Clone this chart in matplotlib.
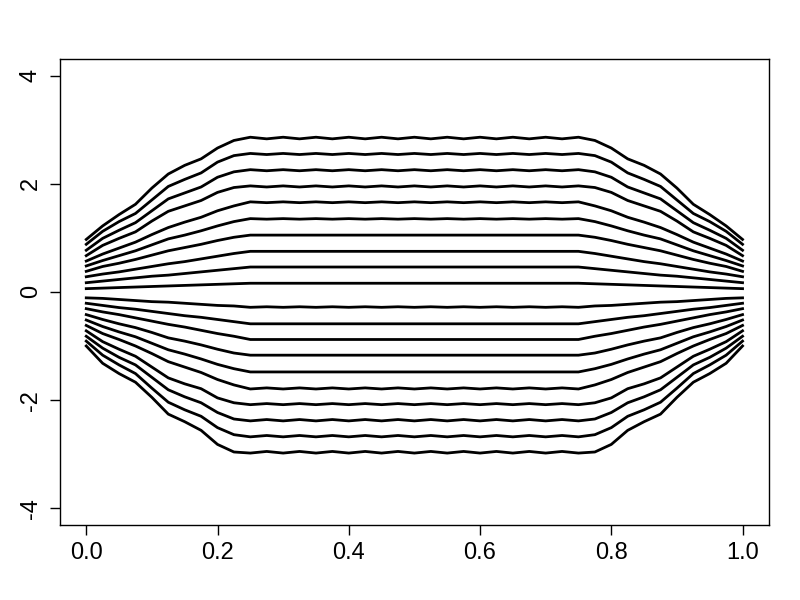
import matplotlib
matplotlib.use("Agg")
import matplotlib.pyplot as plt

plt.rcParams['font.family'] = ['Liberation Sans', 'DejaVu Sans']

# shared x positions of every curve
x_grid = [0.000, 0.025, 0.050, 0.075, 0.100, 0.125, 0.150, 0.175, 0.200, 0.225,
          0.250, 0.275, 0.300, 0.325, 0.350, 0.375, 0.400, 0.425, 0.450, 0.475,
          0.500, 0.525, 0.550, 0.575, 0.600, 0.625, 0.650, 0.675, 0.700, 0.725,
          0.750, 0.775, 0.800, 0.825, 0.850, 0.875, 0.900, 0.925, 0.950, 0.975,
          1.000]

# curves above zero, outermost first
upper_curves = [
    [0.97, 1.22, 1.43, 1.62, 1.92, 2.18, 2.34, 2.46, 2.66, 2.80, 2.86,
     2.83, 2.86, 2.83, 2.86, 2.83, 2.86, 2.83, 2.86, 2.83, 2.86, 2.83, 2.86, 2.83, 2.86, 2.83, 2.86, 2.83, 2.86, 2.83,
     2.86, 2.80, 2.66, 2.46, 2.34, 2.18, 1.92, 1.62, 1.43, 1.22, 0.97],
    [0.88, 1.12, 1.30, 1.45, 1.70, 1.95, 2.08, 2.20, 2.40, 2.52, 2.56,
     2.54, 2.56, 2.54, 2.56, 2.54, 2.56, 2.54, 2.56, 2.54, 2.56, 2.54, 2.56, 2.54, 2.56, 2.54, 2.56, 2.54, 2.56, 2.54,
     2.56, 2.52, 2.40, 2.20, 2.08, 1.95, 1.70, 1.45, 1.30, 1.12, 0.88],
    [0.77, 0.99, 1.14, 1.28, 1.50, 1.72, 1.83, 1.94, 2.12, 2.22, 2.26,
     2.24, 2.26, 2.24, 2.26, 2.24, 2.26, 2.24, 2.26, 2.24, 2.26, 2.24, 2.26, 2.24, 2.26, 2.24, 2.26, 2.24, 2.26, 2.24,
     2.26, 2.22, 2.12, 1.94, 1.83, 1.72, 1.50, 1.28, 1.14, 0.99, 0.77],
    [0.67, 0.86, 0.99, 1.11, 1.31, 1.49, 1.59, 1.69, 1.84, 1.93, 1.96,
     1.94, 1.96, 1.94, 1.96, 1.94, 1.96, 1.94, 1.96, 1.94, 1.96, 1.94, 1.96, 1.94, 1.96, 1.94, 1.96, 1.94, 1.96, 1.94,
     1.96, 1.93, 1.84, 1.69, 1.59, 1.49, 1.31, 1.11, 0.99, 0.86, 0.67],
    [0.57, 0.70, 0.81, 0.92, 1.06, 1.19, 1.29, 1.38, 1.50, 1.59, 1.665,
     1.65, 1.665, 1.65, 1.665, 1.65, 1.665, 1.65, 1.665, 1.65, 1.665, 1.65, 1.665, 1.65, 1.665, 1.65, 1.665, 1.65, 1.665, 1.65,
     1.665, 1.59, 1.50, 1.38, 1.29, 1.19, 1.06, 0.92, 0.81, 0.70, 0.57],
    [0.48, 0.58, 0.67, 0.76, 0.87, 0.98, 1.05, 1.13, 1.22, 1.30, 1.355,
     1.345, 1.355, 1.345, 1.355, 1.345, 1.355, 1.345, 1.355, 1.345, 1.355, 1.345, 1.355, 1.345, 1.355, 1.345, 1.355, 1.345, 1.355, 1.345,
     1.355, 1.30, 1.22, 1.13, 1.05, 0.98, 0.87, 0.76, 0.67, 0.58, 0.48],
    [0.38, 0.47, 0.53, 0.60, 0.68, 0.76, 0.82, 0.88, 0.95, 1.01, 1.05,
     1.05, 1.05, 1.05, 1.05, 1.05, 1.05, 1.05, 1.05, 1.05, 1.05, 1.05, 1.05, 1.05, 1.05, 1.05, 1.05, 1.05, 1.05, 1.05,
     1.05, 1.01, 0.95, 0.88, 0.82, 0.76, 0.68, 0.60, 0.53, 0.47, 0.38],
    [0.28, 0.33, 0.37, 0.42, 0.47, 0.52, 0.56, 0.61, 0.66, 0.71, 0.75,
     0.75, 0.75, 0.75, 0.75, 0.75, 0.75, 0.75, 0.75, 0.75, 0.75, 0.75, 0.75, 0.75, 0.75, 0.75, 0.75, 0.75, 0.75, 0.75,
     0.75, 0.71, 0.66, 0.61, 0.56, 0.52, 0.47, 0.42, 0.37, 0.33, 0.28],
    [0.17, 0.20, 0.23, 0.26, 0.29, 0.31, 0.34, 0.37, 0.40, 0.43, 0.46,
     0.46, 0.46, 0.46, 0.46, 0.46, 0.46, 0.46, 0.46, 0.46, 0.46, 0.46, 0.46, 0.46, 0.46, 0.46, 0.46, 0.46, 0.46, 0.46,
     0.46, 0.43, 0.40, 0.37, 0.34, 0.31, 0.29, 0.26, 0.23, 0.20, 0.17],
    [0.06, 0.07, 0.08, 0.09, 0.10, 0.11, 0.12, 0.13, 0.14, 0.15, 0.16,
     0.16, 0.16, 0.16, 0.16, 0.16, 0.16, 0.16, 0.16, 0.16, 0.16, 0.16, 0.16, 0.16, 0.16, 0.16, 0.16, 0.16, 0.16, 0.16,
     0.16, 0.15, 0.14, 0.13, 0.12, 0.11, 0.10, 0.09, 0.08, 0.07, 0.06],
]

# curves below zero, innermost first
lower_curves = [
    [-0.11, -0.12, -0.14, -0.16, -0.18, -0.19, -0.21, -0.23, -0.25, -0.26, -0.285,
     -0.275, -0.285, -0.275, -0.285, -0.275, -0.285, -0.275, -0.285, -0.275, -0.285, -0.275, -0.285, -0.275, -0.285, -0.275, -0.285, -0.275, -0.285, -0.275,
     -0.285, -0.26, -0.25, -0.23, -0.21, -0.19, -0.18, -0.16, -0.14, -0.12, -0.11],
    [-0.21, -0.25, -0.29, -0.32, -0.36, -0.40, -0.44, -0.47, -0.51, -0.55, -0.59,
     -0.59, -0.59, -0.59, -0.59, -0.59, -0.59, -0.59, -0.59, -0.59, -0.59, -0.59, -0.59, -0.59, -0.59, -0.59, -0.59, -0.59, -0.59, -0.59,
     -0.59, -0.55, -0.51, -0.47, -0.44, -0.40, -0.36, -0.32, -0.29, -0.25, -0.21],
    [-0.31, -0.37, -0.42, -0.48, -0.54, -0.60, -0.65, -0.71, -0.77, -0.82, -0.88,
     -0.88, -0.88, -0.88, -0.88, -0.88, -0.88, -0.88, -0.88, -0.88, -0.88, -0.88, -0.88, -0.88, -0.88, -0.88, -0.88, -0.88, -0.88, -0.88,
     -0.88, -0.82, -0.77, -0.71, -0.65, -0.60, -0.54, -0.48, -0.42, -0.37, -0.31],
    [-0.42, -0.51, -0.59, -0.66, -0.75, -0.85, -0.91, -0.98, -1.06, -1.13, -1.17,
     -1.17, -1.17, -1.17, -1.17, -1.17, -1.17, -1.17, -1.17, -1.17, -1.17, -1.17, -1.17, -1.17, -1.17, -1.17, -1.17, -1.17, -1.17, -1.17,
     -1.17, -1.13, -1.06, -0.98, -0.91, -0.85, -0.75, -0.66, -0.59, -0.51, -0.42],
    [-0.52, -0.64, -0.74, -0.83, -0.95, -1.07, -1.15, -1.24, -1.34, -1.42, -1.48,
     -1.48, -1.48, -1.48, -1.48, -1.48, -1.48, -1.48, -1.48, -1.48, -1.48, -1.48, -1.48, -1.48, -1.48, -1.48, -1.48, -1.48, -1.48, -1.48,
     -1.48, -1.42, -1.34, -1.24, -1.15, -1.07, -0.95, -0.83, -0.74, -0.64, -0.52],
    [-0.62, -0.77, -0.88, -1.00, -1.14, -1.29, -1.39, -1.49, -1.62, -1.72, -1.795,
     -1.775, -1.795, -1.775, -1.795, -1.775, -1.795, -1.775, -1.795, -1.775, -1.795, -1.775, -1.795, -1.775, -1.795, -1.775, -1.795, -1.775, -1.795, -1.775,
     -1.795, -1.72, -1.62, -1.49, -1.39, -1.29, -1.14, -1.00, -0.88, -0.77, -0.62],
    [-0.72, -0.92, -1.06, -1.19, -1.39, -1.59, -1.70, -1.79, -1.96, -2.05, -2.085,
     -2.065, -2.085, -2.065, -2.085, -2.065, -2.085, -2.065, -2.085, -2.065, -2.085, -2.065, -2.085, -2.065, -2.085, -2.065, -2.085, -2.065, -2.085, -2.065,
     -2.085, -2.05, -1.96, -1.79, -1.70, -1.59, -1.39, -1.19, -1.06, -0.92, -0.72],
    [-0.82, -1.04, -1.21, -1.35, -1.58, -1.81, -1.94, -2.05, -2.23, -2.35, -2.385,
     -2.36, -2.385, -2.36, -2.385, -2.36, -2.385, -2.36, -2.385, -2.36, -2.385, -2.36, -2.385, -2.36, -2.385, -2.36, -2.385, -2.36, -2.385, -2.36,
     -2.385, -2.35, -2.23, -2.05, -1.94, -1.81, -1.58, -1.35, -1.21, -1.04, -0.82],
    [-0.91, -1.17, -1.35, -1.51, -1.78, -2.04, -2.18, -2.30, -2.51, -2.64, -2.68,
     -2.655, -2.68, -2.655, -2.68, -2.655, -2.68, -2.655, -2.68, -2.655, -2.68, -2.655, -2.68, -2.655, -2.68, -2.655, -2.68, -2.655, -2.68, -2.655,
     -2.68, -2.64, -2.51, -2.30, -2.18, -2.04, -1.78, -1.51, -1.35, -1.17, -0.91],
    [-1.00, -1.32, -1.51, -1.67, -1.95, -2.26, -2.40, -2.56, -2.82, -2.96, -2.98,
     -2.95, -2.98, -2.95, -2.98, -2.95, -2.98, -2.95, -2.98, -2.95, -2.98, -2.95, -2.98, -2.95, -2.98, -2.95, -2.98, -2.95, -2.98, -2.95,
     -2.98, -2.96, -2.82, -2.56, -2.40, -2.26, -1.95, -1.67, -1.51, -1.32, -1.00],
]

x_ticks = [0.0, 0.2, 0.4, 0.6, 0.8, 1.0]
x_tick_labels = ["0.0", "0.2", "0.4", "0.6", "0.8", "1.0"]
y_ticks = [-4, -2, 0, 2, 4]
y_tick_labels = ["-4", "-2", "0", "2", "4"]

fig = plt.figure(figsize=(8, 6), dpi=100)
ax = fig.add_axes([0.075, 0.125, 0.886, 0.777])

for curve in upper_curves + lower_curves:
    ax.plot(x_grid, curve, color='black', linewidth=2.0, solid_joinstyle='round')

# R-like axes: 4% padding, outward ticks
ax.set_xlim(-0.04, 1.04)
ax.set_ylim(-4.31, 4.31)
ax.set_xticks(x_ticks)
ax.set_xticklabels(x_tick_labels)
ax.set_yticks(y_ticks)
ax.set_yticklabels(y_tick_labels, rotation=90, va='center')
ax.tick_params(direction='out', length=7, width=1, labelsize=17, pad=5)
ax.tick_params(axis='y', pad=6)
for sp in ax.spines.values():
    sp.set_linewidth(1)

fig.savefig("out.png", dpi=100)
